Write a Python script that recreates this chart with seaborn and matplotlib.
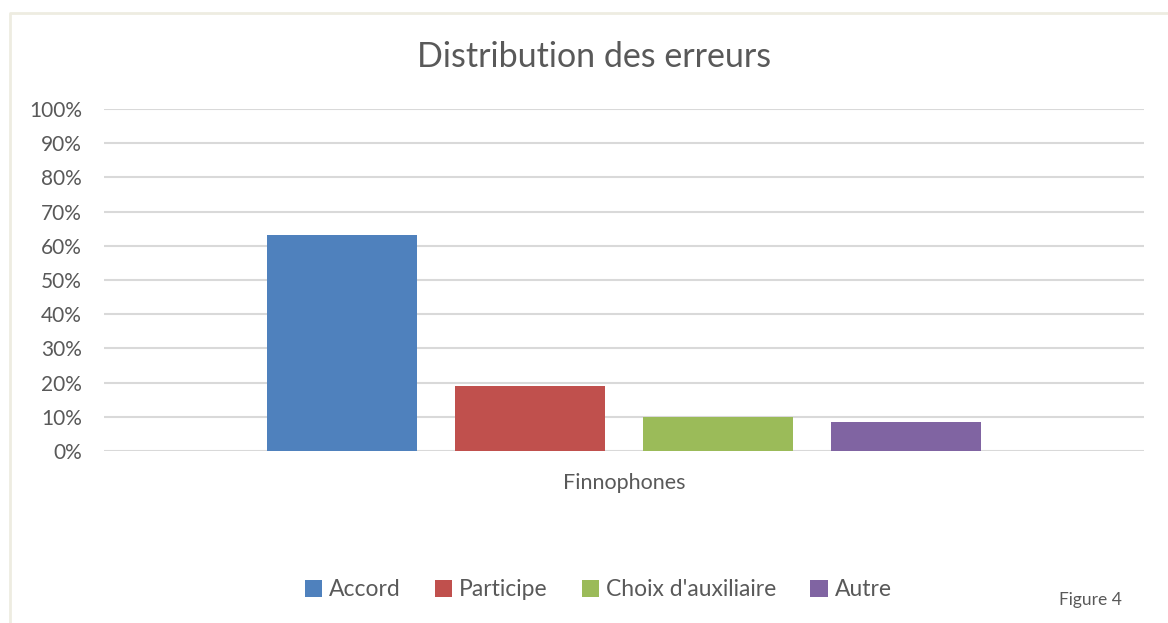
import matplotlib
matplotlib.use("Agg")
import matplotlib.pyplot as plt
import seaborn as sns
import pandas as pd
from matplotlib.lines import Line2D
from matplotlib.ticker import PercentFormatter

groupes = ["Finnophones"]
categories = ["Accord", "Participe", "Choix d'auxiliaire", "Autre"]
valeurs = [63.2, 19.0, 9.8, 8.4]
couleurs = ["#4F81BD", "#C0504D", "#9BBB59", "#8064A2"]
yticks = [0, 10, 20, 30, 40, 50, 60, 70, 80, 90, 100]

df = pd.DataFrame({
    "groupe": groupes * len(categories),
    "type": categories,
    "valeur": valeurs,
})

sns.set_theme(style="white")
plt.rcParams["font.family"] = ["Lato", "DejaVu Sans"]
txt = "#595959"

fig = plt.figure(figsize=(11.68, 6.23), dpi=100)
ax = fig.add_axes([104 / 1168, 1 - 451 / 623, 1040 / 1168, 342 / 623])

sns.barplot(data=df, x="groupe", y="valeur", hue="type", hue_order=categories,
            palette=couleurs, width=0.723, gap=0.207, saturation=1,
            linewidth=0, ax=ax, legend=True)

ax.set_xlim(-0.5, 0.5)
ax.set_ylim(0, 100)
ax.set_yticks(yticks)
ax.yaxis.set_major_formatter(PercentFormatter(decimals=0))
ax.grid(axis="y", color="#D9D9D9", linewidth=1.5)
ax.set_axisbelow(True)
for s in ax.spines.values():
    s.set_visible(False)
ax.set_xlabel("")
ax.set_ylabel("")
ax.tick_params(axis="both", length=0, labelsize=15, colors=txt)
ax.tick_params(axis="y", pad=16)
ax.tick_params(axis="x", pad=16, labelsize=15.5)
for t in ax.get_yticklabels():
    t.set_color(txt)

handles, labels = ax.get_legend_handles_labels()
ax.get_legend().remove()
fig.legend(handles, labels, loc="center", bbox_to_anchor=(598 / 1168, 1 - 590 / 623),
           ncol=4, frameon=False, fontsize=16.5, labelcolor=txt,
           handlelength=0.75, handleheight=0.75, handletextpad=0.3, columnspacing=1.5)

fig.text(594 / 1168, 1 - 57 / 623, "Distribution des erreurs", ha="center", va="center",
         fontsize=24.5, color=txt)
fig.text(1090 / 1168, 1 - 600 / 623, "Figure 4", ha="center", va="center",
         fontsize=12.5, color=txt)

frame = "#EEECE1"
fig.add_artist(Line2D([9.5 / 1168, 9.5 / 1168, 1.0], [0.0, 1 - 13 / 623, 1 - 13 / 623],
                      transform=fig.transFigure, color=frame, linewidth=2))

fig.savefig("out.png", dpi=100, facecolor="white")
